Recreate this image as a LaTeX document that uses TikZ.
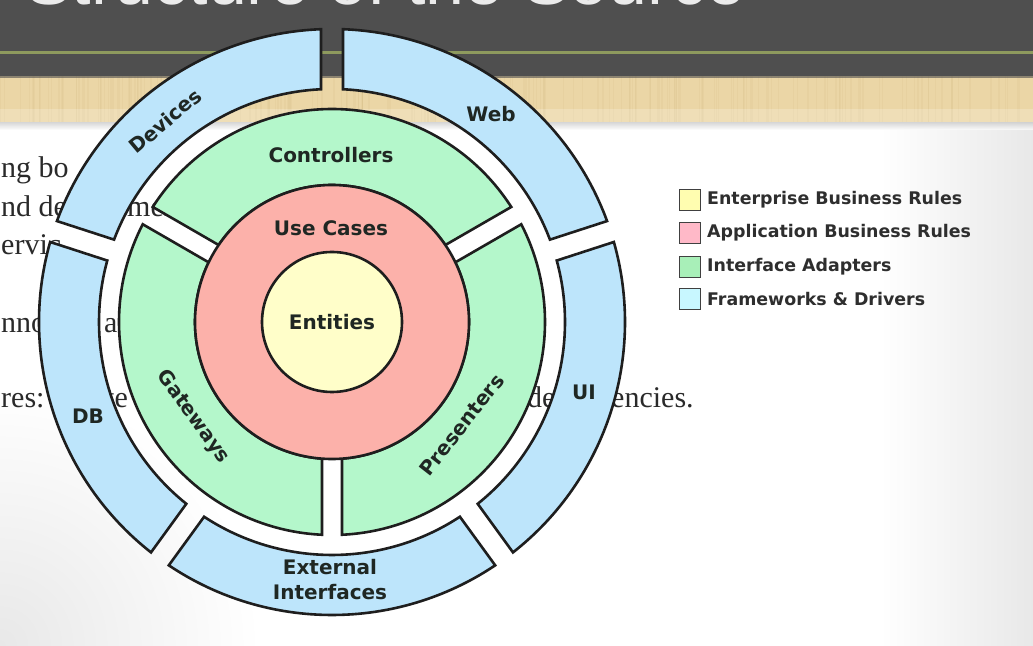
\documentclass[tikz,border=0pt]{standalone}
\usepackage{fontspec}
\setmainfont{Liberation Serif}
\newfontfamily\dvfont{DejaVu Sans}
\newfontfamily\titlefont{Liberation Sans}
\usetikzlibrary{calc}
\definecolor{bandgray}{HTML}{4F4F4F}
\definecolor{olive}{HTML}{8E9A5E}
\definecolor{tan}{HTML}{EBD6A6}
\definecolor{tandark}{HTML}{CDB47C}
\definecolor{ringblue}{HTML}{BDE5FB}
\definecolor{ringgreen}{HTML}{B4F7CB}
\definecolor{ringpink}{HTML}{FCB1AA}
\definecolor{ringyellow}{HTML}{FFFEC9}
\definecolor{legY}{HTML}{FFFDB0}
\definecolor{legP}{HTML}{FFB9C8}
\definecolor{legG}{HTML}{A8EFB8}
\definecolor{legC}{HTML}{C8F7FF}
\definecolor{edge}{HTML}{1E1E1E}
\definecolor{labelc}{HTML}{1F2723}
\definecolor{bodyc}{HTML}{2A2A2A}
\newcommand{\ringsector}[6]{%
  \path[#1] ({#2+asin(#6/#5)}:#5)
    arc[start angle={#2+asin(#6/#5)}, end angle={#3-asin(#6/#5)}, radius=#5]
    -- ({#3-asin(#6/#4)}:#4)
    arc[start angle={#3-asin(#6/#4)}, end angle={#2+asin(#6/#4)}, radius=#4]
    -- cycle;}
\tikzset{
  part/.style={draw=edge, line width=2.6pt},
  lbl/.style={font=\dvfont\bfseries\fontsize{20}{25}\selectfont, text=labelc, inner sep=0pt, align=center},
  legbox/.style={draw=black!75, line width=1.8pt, minimum size=21pt, inner sep=0pt},
  legtext/.style={font=\dvfont\bfseries\fontsize{17.4}{20}\selectfont, text=black!82, anchor=west, inner sep=0pt},
  body/.style={font=\fontsize{30}{34}\selectfont, text=bodyc, anchor=base west, inner sep=0pt}
}
\begin{document}
\begin{tikzpicture}[x=1pt, y=1pt]
\useasboundingbox (0,0) rectangle (1033,645);
\clip (0,0) rectangle (1033,645);
% slide background
\fill[white] (0,0) rectangle (1033,523);
\shade[left color=white, right color=black!9] (880,0) rectangle (1033,523);
\begin{scope}
  \clip (0,0) rectangle (880,523);
  \shade[inner color=black!9, outer color=white] (-260,-260) rectangle (260,260);
\end{scope}
\shade[top color=gray!40, bottom color=white, opacity=0.8] (0,515) rectangle (1033,523);
% tan band
\fill[tan] (0,523) rectangle (1033,569);
\pgfmathsetseed{7}
\foreach \i in {1,...,220}{
  \pgfmathsetmacro\xx{rnd*1033}
  \pgfmathsetmacro\ww{0.5+rnd*1.5}
  \fill[tandark, opacity=0.13] (\xx,523) rectangle ++(\ww,46);
}
\fill[white, opacity=0.2] (0,523) rectangle (1033,536);
% dark title band
\fill[bandgray] (0,569) rectangle (1033,645);
\shade[top color=bandgray, bottom color=black!70, opacity=0.6] (0,567) rectangle (1033,570);
\fill[olive] (0,591) rectangle (1033,593.5);
\node[anchor=base west, text=white!92!black, font=\titlefont\fontsize{70}{80}\selectfont, inner sep=0pt] (title) at (25,640) {Structure of the Source};
% body text fragments behind the diagram
\node[body] (t1) at (1,467) {ng bo};
\node[body] (t2a) at (1,428) {nd de};
\node[body] (t2b) at (127,428) {men};
\node[body] (t3) at (1,390) {ervic};
\node[body] (t4a) at (1,312) {nno};
\node[body] (t4b) at (104,312) {ar};
\node[body] (t5a) at (1,237) {res:};
\node[body] (t5b) at (106,237) {te};
\node[body] (t5c) at (527,237) {de};
\node[body] (t5d) at (611,237) {encies.};
% the diagram
\begin{scope}[shift={(332,323)}]
  % outer ring: frameworks & drivers
  \ringsector{part, fill=ringblue}{18}{90}{233}{293}{11}
  \ringsector{part, fill=ringblue}{90}{162}{233}{293}{11}
  \ringsector{part, fill=ringblue}{162}{234}{233}{293}{11}
  \ringsector{part, fill=ringblue}{234}{306}{233}{293}{11}
  \ringsector{part, fill=ringblue}{306}{378}{233}{293}{11}
  % interface adapters
  \ringsector{part, fill=ringgreen}{30}{150}{137}{213}{10}
  \ringsector{part, fill=ringgreen}{150}{270}{137}{213}{10}
  \ringsector{part, fill=ringgreen}{270}{390}{137}{213}{10}
  % use cases and entities
  \draw[part, fill=ringpink] (0,0) circle[radius=137];
  \draw[part, fill=ringyellow] (0,0) circle[radius=70];
\end{scope}
% labels
\node[lbl] (entities) at (332,323) {Entities};
\node[lbl] (usecases) at (331,417) {Use Cases};
\node[lbl] (controllers) at (331,490) {Controllers};
\node[lbl, rotate=-54] (gateways) at (193,228) {Gateways};
\node[lbl, rotate=52] (presenters) at (462,220) {Presenters};
\node[lbl] (web) at (491,531) {Web};
\node[lbl, rotate=40] (devices) at (165,524) {Devices};
\node[lbl] (db) at (88,229) {DB};
\node[lbl] (ui) at (584,253) {UI};
\node[lbl] (external) at (330,65) {External\\Interfaces};
% legend
\node[legbox, fill=legY] (ly) at (690,445) {};
\node[legbox, fill=legP] (lp) at (690,412) {};
\node[legbox, fill=legG] (lg) at (690,378) {};
\node[legbox, fill=legC] (lc) at (690,346) {};
\node[legtext] (tly) at (707,445) {Enterprise Business Rules};
\node[legtext] (tlp) at (707,412) {Application Business Rules};
\node[legtext] (tlg) at (707,378) {Interface Adapters};
\node[legtext] (tlc) at (707,346) {Frameworks \& Drivers};
\end{tikzpicture}
\end{document}
